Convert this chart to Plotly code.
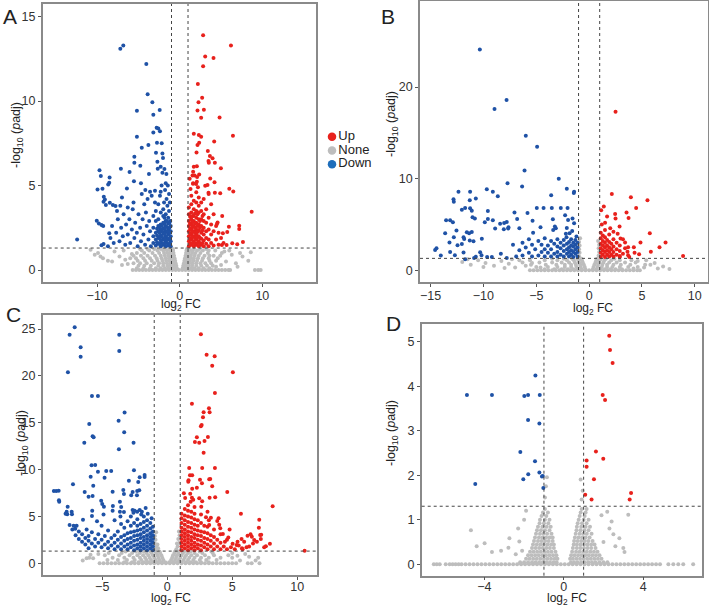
import plotly.graph_objects as go

# ------------------------------------------------------------------ data
# thresholds
FC_CUT = 1.0
P_CUT = 1.301  # -log10(0.05)

legend_labels = ["Up", "None", "Down"]

# ---------- Panel A
a_up = [(2.83,13.9),(6.2,13.3),(3.08,12.64),(4.09,12.56),(2.83,12.07),(2.19,11.02),(2.71,10.2),(2.27,9.94),
        (2.15,9.45),(2.92,9.49),(2.59,9.01),(4.82,9.03),(1.7,8.07),(2.31,7.99),(2.59,7.89),(6.44,7.95),(4.17,7.61),
        (2.15,7.4),(2.35,7.53),(2.03,6.96),(3.4,7.04),(3.65,6.75),(3.97,6.61),(3.48,6.45),(3.52,6.35),(4.25,6.35),
        (4.98,6.02),(1.7,6.11),(2.07,6.15),(1.62,5.82),(2.35,5.66),(1.54,5.6),(2.1,5.5),(3.69,5.42),(1.62,5.13),
        (2.07,5.23),(1.98,5.09),(4.21,5.19),(3.08,4.99),(3.36,5.03),(6.0,4.81),(6.48,4.65),(3.48,4.58),(4.25,4.58),
        (4.9,4.54),(8.71,3.45),(5.14,3.2),(4.58,2.82),(4.5,2.72),(7.2,2.62),(7.2,2.43),(5.95,2.56),(5.75,2.25),
        (5.22,2.17),(7.65,1.66),(6.36,1.58),(6.96,1.52),(5.1,1.48),(5.67,1.48),
        (1.1,1.4),(1.1,1.7),(1.1,2.0),(1.1,2.3),(1.1,2.6),(1.1,2.9),(1.1,3.3),(1.1,3.7),
        (1.4,1.5),(1.4,1.8),(1.4,2.1),(1.4,2.4),(1.4,2.7),(1.4,3.0),(1.4,3.4),(1.4,3.9),(1.4,4.4),
        (1.7,1.4),(1.7,1.7),(1.7,2.0),(1.7,2.3),(1.7,2.6),(1.7,2.9),(1.7,3.2),(1.7,3.6),(1.7,4.1),
        (2.0,1.5),(2.0,1.8),(2.0,2.1),(2.0,2.4),(2.0,2.8),(2.0,3.1),(2.0,3.5),(2.0,4.0),(2.0,4.6),
        (2.3,1.4),(2.3,1.7),(2.3,2.0),(2.3,2.35),(2.3,2.7),(2.3,3.0),(2.3,3.4),(2.3,3.8),(2.3,4.3),
        (2.6,1.5),(2.6,1.85),(2.6,2.2),(2.6,2.6),(2.6,3.0),(2.6,3.5),(2.6,4.0),
        (2.9,1.4),(2.9,1.75),(2.9,2.1),(2.9,2.5),(2.9,2.9),(2.9,3.3),(2.9,4.2),
        (3.2,1.55),(3.2,1.9),(3.2,2.3),(3.2,2.8),(3.2,3.6),(3.5,1.4),(3.5,1.8),(3.5,2.4),(3.5,3.1),(3.5,4.5),
        (3.8,1.6),(3.8,2.1),(3.8,2.7),(3.8,3.9),(4.1,1.45),(4.1,2.3),(4.1,3.3),(4.4,1.8),(4.4,2.6),
        (4.7,1.5),(4.7,2.2),(5.0,1.9),(5.3,1.6),(1.3,4.8),(1.6,5.1),(1.2,5.4),(2.2,4.9),(1.8,5.6),
        (1.25,1.55),(1.25,1.85),(1.25,2.15),(1.25,2.45),(1.25,2.75),(1.25,3.15),(1.55,1.6),(1.55,1.95),
        (1.55,2.25),(1.55,2.55),(1.55,2.85),(1.55,3.2),(1.85,1.55),(1.85,1.9),(1.85,2.2),(1.85,2.5),(1.85,2.75),
        (1.85,3.35),(2.15,1.6),(2.15,1.95),(2.15,2.25),(2.15,2.6),(2.15,3.3),(2.45,1.55),(2.45,1.9),(2.45,2.5),
        (2.45,2.9),(2.75,1.6),(2.75,2.35),(2.75,3.2)]
a_down = [(-7.2,13.1),(-6.84,13.3),(-4.05,12.2),(-3.89,10.4),(-3.32,9.94),(-5.19,9.43),(-2.43,9.47),(-3.2,9.2),
          (-2.8,8.42),(-2.6,8.38),(-2.4,8.22),(-3.2,8.14),(-5.19,7.89),(-3.8,7.4),(-4.6,7.24),(-2.76,7.53),
          (-2.19,7.5),(-5.5,6.7),(-5.5,6.35),(-4.78,6.17),(-2.88,6.94),(-2.1,6.9),(-2.03,6.63),(-2.71,6.41),
          (-2.31,6.11),(-1.86,5.98),(-2.67,6.0),(-2.1,5.76),(-1.62,5.68),(-7.13,6.0),(-6.08,5.8),(-3.73,5.68),
          (-9.72,5.9),(-9.56,5.56),(-8.5,5.48),(-8.54,5.17),(-5.55,5.25),(-4.7,5.13),(-8.67,5.07),(-9.96,4.77),
          (-9.36,4.81),(-6.4,4.83),(-4.17,4.73),(-3.6,4.63),(-3.0,4.69),(-2.31,4.63),(-1.7,5.13),(-1.78,4.73),
          (-7.0,4.3),(-9.2,4.34),(-9.07,4.18),(-9.23,4.04),(-8.95,3.85),(-8.47,3.98),(-8.1,3.85),(-7.78,3.79),
          (-10.05,2.92),(-9.8,2.76),(-9.48,2.66),(-9.27,2.6),(-12.43,1.8),(-9.48,1.46),(-9.23,1.54),(-8.54,2.17),
          (-1.1,1.4),(-1.1,1.7),(-1.1,2.0),(-1.1,2.3),(-1.1,2.6),(-1.15,2.9),
          (-1.4,1.45),(-1.4,1.8),(-1.4,2.1),(-1.4,2.4),(-1.4,2.75),(-1.4,3.1),
          (-1.7,1.4),(-1.7,1.7),(-1.7,2.0),(-1.7,2.3),(-1.7,2.6),(-1.7,2.9),(-1.7,3.3),
          (-2.0,1.5),(-2.0,1.8),(-2.0,2.15),(-2.0,2.45),(-2.0,2.8),(-2.0,3.2),(-2.0,3.6),
          (-2.3,1.4),(-2.3,1.75),(-2.3,2.05),(-2.3,2.4),(-2.3,2.7),(-2.3,3.4),
          (-2.6,1.55),(-2.6,1.9),(-2.6,2.3),(-2.6,2.6),(-2.6,3.0),(-2.6,3.9),
          (-2.9,1.45),(-2.9,1.8),(-2.9,2.2),(-2.9,2.9),(-2.9,3.5),(-3.2,1.6),(-3.2,2.0),(-3.2,2.5),(-3.2,3.2),
          (-1.3,3.5),(-1.5,3.8),(-1.2,4.0),(-1.6,4.2),(-1.9,4.0),(-1.3,4.5),(-1.45,5.0),
          (-3.5,1.4),(-3.6,2.3),(-3.7,2.9),(-3.8,1.8),(-4.0,2.6),(-4.1,3.4),(-4.2,1.5),(-4.4,2.1),(-4.5,3.0),
          (-4.7,1.7),(-4.8,2.5),(-5.0,3.3),(-5.1,1.4),(-5.2,2.2),(-5.4,2.8),(-5.5,1.9),(-5.7,3.6),(-5.8,2.4),
          (-6.0,1.6),(-6.1,3.0),(-6.3,2.1),(-6.5,2.7),(-6.6,1.5),(-6.8,3.3),(-6.9,2.0),(-7.1,2.5),(-7.3,1.7),
          (-7.5,3.0),(-7.7,2.2),(-8.0,1.6),(-8.2,2.6),(-8.4,1.9),(-8.7,1.4),(-4.3,3.9),(-3.9,4.2),(-5.6,4.0),
          (-6.3,3.7),(-7.2,3.8),(-7.6,3.5),(-4.6,4.5),(-3.4,4.4),(-3.0,4.0),(-2.4,4.4),(-2.2,5.0),
          (-1.25,1.55),(-1.25,1.85),(-1.25,2.2),(-1.25,2.5),(-1.25,2.8),(-1.55,1.6),(-1.55,1.9),(-1.55,2.25),
          (-1.55,2.55),(-1.55,2.9),(-1.85,1.55),(-1.85,1.85),(-1.85,2.15),(-1.85,2.45),(-1.85,2.75),(-1.85,3.1),
          (-2.15,1.6),(-2.15,1.95),(-2.15,2.3),(-2.15,2.6),(-2.45,1.55),(-2.45,1.9),(-2.45,2.2),(-2.45,2.55),
          (-2.75,1.65),(-2.75,2.05),(-2.75,2.45)]
a_none_rows = [
    (0.0, [-5.7,-5.3,-4.9,-4.5,-4.1,-3.7,-3.3,-2.9,-2.5,-2.1,-1.7,-1.3,-0.9,-0.5,-0.1,0.3,0.7,1.1,1.5,1.9,
           2.3,2.7,3.1,3.5,3.9,4.3,4.7,5.1,5.5,5.9,6.1,9.1,9.5,9.8]),
    (0.1, [-5.2,-4.4,-3.6,-2.9,-2.3,-1.8,-1.4,-1.0,-0.65,-0.35,0.35,0.65,1.0,1.4,1.8,2.3,2.9,3.6]),
    (0.25, [-5.0,-4.3,-3.5,-2.6,-2.0,-1.5,-1.1,-0.75,-0.42,0.42,0.75,1.1,1.5,2.0,2.6,3.3,4.0]),
    (0.4, [-5.6,-4.8,-4.0,-3.1,-2.5,-2.0,-1.55,-1.15,-0.8,-0.5,0.5,0.8,1.15,1.55,2.0,2.5,3.1,3.8]),
    (0.55, [-5.1,-4.2,-3.4,-2.7,-2.1,-1.65,-1.25,-0.9,-0.56,0.56,0.9,1.25,1.65,2.1,2.7,3.6,4.4]),
    (0.7, [-6.0,-5.3,-4.4,-3.6,-2.8,-2.2,-1.7,-1.3,-0.95,-0.63,0.63,0.95,1.3,1.7,2.2,2.8,3.5,4.6]),
    (0.85, [-5.6,-4.7,-3.9,-3.0,-2.3,-1.8,-1.35,-1.0,-0.7,0.7,1.0,1.35,1.8,2.3,3.0,3.6,4.1,4.9]),
    (1.0, [-5.2,-4.3,-3.3,-2.5,-1.9,-1.5,-1.1,-0.76,0.76,1.1,1.5,1.9,2.5,3.4,5.1]),
    (1.15, [-4.6,-3.7,-2.7,-2.0,-1.55,-1.15,-0.82,0.82,1.15,1.55,2.1,2.8,3.5,4.3,6.0]),
    (1.25, [-4.8,-3.9,-3.1,-2.3,-1.7,-1.2,-0.87,0.87,1.2,1.7,2.4,3.2]),
]
a_none_pts = [(-10.8,1.2),(-10.3,0.9),(-9.9,1.0),(-9.6,0.8),(-9.3,0.7),(-8.7,0.55),(-8.2,0.5),(-7.9,1.1),
              (-7.3,0.8),(-6.8,1.15),(-6.6,0.6),(-6.3,0.35),(-5.8,0.95),(-7.0,0.3),(5.6,0.5),(6.3,0.9),
              (6.8,0.4),(7.3,1.0),(7.6,0.8),(8.3,0.55),(8.6,1.05),(5.0,0.3),(4.4,0.2),(5.4,1.1),(7.0,0.2)]

# ---------- Panel B
b_up = [(2.5,17.3),(2.15,8.34),(3.95,7.98),(5.52,7.65),(1.39,6.95),(4.45,6.81),(1.14,6.56),(3.54,6.3),
        (2.46,6.15),(1.7,5.86),(2.5,5.64),(3.73,5.72),(1.51,5.2),(2.88,4.77),(5.74,4.04),(2.97,3.46),
        (4.86,3.02),(7.23,3.02),(3.4,3.02),(3.69,2.51),(4.23,2.51),(6.66,2.51),(5.84,2.03),(3.63,2.03),
        (3.69,1.64),(4.73,1.75),(8.89,1.56),(2.9,1.56),
        (1.1,1.45),(1.1,1.9),(1.1,2.4),(1.1,2.9),(1.1,3.5),(1.1,4.1),(1.3,1.7),(1.3,2.2),(1.3,2.7),(1.3,3.2),
        (1.3,3.8),(1.5,1.45),(1.5,2.0),(1.5,2.5),(1.5,3.0),(1.5,3.6),(1.5,4.4),(1.7,1.7),(1.7,2.2),(1.7,2.7),
        (1.7,3.3),(1.9,1.5),(1.9,2.0),(1.9,2.5),(1.9,3.1),(1.9,3.9),(2.1,1.7),(2.1,2.3),(2.1,2.9),(2.3,1.5),
        (2.3,2.0),(2.3,2.6),(2.3,3.4),(2.3,4.2),(2.6,1.7),(2.6,2.3),(2.6,3.0),(2.9,1.45),(2.9,2.1),(2.9,2.7),
        (3.2,1.8),(3.2,3.4),(3.4,2.4),(3.8,1.45),(4.3,1.9),(1.2,5.0),(2.0,4.6),(2.7,4.0)]
b_down = [(-10.34,24.1),(-7.81,18.6),(-8.95,17.6),(-5.99,14.7),(-4.92,13.5),(-6.11,10.9),(-7.72,9.5),
          (-6.34,9.14),(-2.87,9.98),(-2.11,8.89),(-1.45,8.45),(-1.42,8.56),(-12.36,8.56),(-11.26,8.56),
          (-12.83,7.76),(-12.8,7.47),(-10.72,7.83),(-9.68,8.85),(-9.11,8.56),(-8.64,8.09),(-3.59,8.2),
          (-12.04,6.62),(-11.73,6.81),(-11.29,7.65),(-11.26,6.78),(-11.1,6.51),(-9.58,6.48),(-11.03,5.79),
          (-10.81,5.64),(-7.06,6.3),(-5.83,6.26),(-4.95,6.81),(-4.31,6.81),(-3.53,6.81),(-2.68,6.81),
          (-2.04,6.81),(-13.53,5.46),(-13.15,5.46),(-12.89,5.24),(-9.87,5.24),(-9.58,5.6),(-9.11,5.46),
          (-8.42,5.09),(-8.04,5.17),(-7.79,5.28),(-8.07,4.48),(-7.66,4.55),(-7.63,4.7),(-8.89,4.55),
          (-6.81,5.6),(-5.35,5.42),(-3.43,5.57),(-3.15,4.59),(-3.24,4.77),(-2.27,6.0),(-1.99,5.5),(-1.57,5.64),
          (-1.42,5.14),(-2.11,4.62),(-1.85,4.04),(-2.14,3.61),(-13.62,4.04),(-12.55,4.33),(-11.88,3.6),
          (-11.82,3.42),(-11.57,4.15),(-11.35,4.04),(-11.1,4.19),(-11.29,3.24),(-10.94,3.17),(-10.15,3.45),
          (-13.21,3.02),(-12.8,3.6),(-12.45,2.73),(-12.04,2.87),(-14.57,2.22),(-14.44,2.4),(-14.03,1.6),
          (-13.15,2.0),(-12.7,1.64),(-11.88,1.93),(-11.73,1.2),(-10.31,1.97),(-10.18,1.64),(-9.65,1.45),
          (-9.2,1.45),(-8.35,1.81),(-10.72,1.49),(-10.88,1.35),(-7.79,1.35),
          (-1.1,1.5),(-1.1,2.0),(-1.1,2.5),(-1.1,3.0),(-1.3,1.8),(-1.3,2.3),(-1.3,2.8),(-1.3,3.3),(-1.5,1.45),
          (-1.5,2.0),(-1.5,2.6),(-1.5,3.0),(-1.7,1.7),(-1.7,2.2),(-1.7,2.7),(-1.7,3.4),(-1.9,1.5),(-1.9,2.0),
          (-1.9,2.5),(-1.9,3.1),(-2.1,1.8),(-2.1,2.3),(-2.1,2.9),(-2.4,1.5),(-2.4,2.1),(-2.4,2.7),(-2.4,3.3),
          (-2.7,1.7),(-2.7,2.4),(-2.7,3.0),(-3.0,1.5),(-3.0,2.0),(-3.0,2.6),(-3.0,3.4),(-3.3,1.8),(-3.3,2.9),
          (-3.6,1.5),(-3.6,2.3),(-3.6,3.2),(-3.9,1.9),(-3.9,2.7),(-4.2,1.5),(-4.2,2.3),(-4.2,3.5),(-4.5,2.0),
          (-4.5,2.8),(-4.8,1.6),(-4.8,3.2),(-5.1,2.3),(-5.4,1.5),(-5.4,2.8),(-5.7,1.9),(-5.7,3.4),(-6.0,2.5),
          (-6.3,1.6),(-6.3,3.0),(-6.6,2.2),(-6.9,1.5),(-7.2,2.8),(-2.2,4.0),(-1.2,3.7),(-1.6,4.3),(-3.4,4.4),
          (-4.6,4.7),(-5.3,4.1),(-6.6,4.6)]
b_none_rows = [
    (0.0, [-5.6,-5.25,-4.9,-4.55,-4.2,-3.85,-3.5,-3.15,-2.8,-2.45,-2.1,-1.75,-1.4,-1.05,-0.7,-0.35,0.0,0.35,
           0.7,1.05,1.4,1.75,2.1,2.45,2.8,3.15,3.5,3.85,4.2,4.55,4.8]),
    (0.1, [-4.2,-3.3,-2.6,-2.0,-1.5,-1.1,-0.7,-0.35,0.35,0.7,1.1,1.5,2.0,2.5,3.1]),
    (0.35, [-5.0,-3.9,-3.0,-2.3,-1.7,-1.2,-0.8,-0.42,0.42,0.8,1.2,1.7,2.2,2.9,3.7,4.6]),
    (0.6, [-5.5,-4.1,-3.1,-2.3,-1.7,-1.25,-0.85,-0.5,0.5,0.85,1.25,1.7,2.3,3.0,3.9,5.3]),
    (0.85, [-6.3,-4.7,-3.5,-2.6,-1.9,-1.35,-0.95,-0.6,0.6,0.95,1.35,1.9,2.6,3.4,4.4]),
    (1.1, [-5.6,-4.2,-3.0,-2.1,-1.45,-1.0,-0.68,0.68,1.0,1.45,2.1,2.9,4.0]),
    (1.25, [-3.5,-2.4,-1.6,-1.1,-0.74,0.74,1.1,1.6,2.4]),
]
b_none_pts = [(-0.95,1.5),(-0.9,1.9),(-0.95,2.3),(-0.9,2.7),(-0.95,3.1),(-0.85,3.5),(0.9,1.6),(0.95,2.0),
              (0.9,2.4),(0.95,2.8),(0.85,3.2),(-12.0,0.9),(-11.2,0.6),(-10.5,1.1),(-9.8,0.8),(-9.0,0.5),
              (-8.3,1.0),(-7.6,0.7),(-7.0,0.3),(-6.6,1.1),(-8.0,0.25),(-10.0,0.35),(-7.3,1.2),(-6.0,0.5),
              (-5.4,0.8),(-4.6,0.3),(-11.5,1.2),(5.2,0.3),(5.8,0.6),(6.5,0.2),(7.0,0.4),(7.6,0.15),(6.2,0.8),
              (4.6,1.0),(5.4,1.1),(4.2,0.2)]

# ---------- Panel C
c_up = [(2.59,24.44),(3.03,22.26),(3.65,22.09),(3.46,21.09),(5.05,20.38),(3.67,18.17),(1.9,17.03),(3.21,16.54),
        (2.8,16.11),(3.26,16.11),(2.75,15.6),(2.65,14.76),(2.59,14.62),(2.28,13.45),(2.13,12.95),(2.46,12.87),
        (2.87,13.05),(3.13,13.48),(2.8,11.8),(1.69,10.17),(2.69,10.17),(3.67,10.17),(1.75,9.39),(1.92,9.39),
        (1.64,8.86),(1.62,8.71),(2.52,8.92),(3.23,8.96),(3.31,9.0),(2.28,8.07),(1.92,7.96),(2.67,8.54),
        (3.46,8.22),(4.62,7.61),(1.28,7.47),(1.77,7.43),(1.38,6.97),(1.9,7.0),(2.0,6.79),(1.8,6.57),(2.46,6.94),
        (3.26,7.0),(3.69,7.04),(2.69,6.61),(2.62,6.04),(8.11,6.08),(5.67,5.3),(7.08,4.66),(7.05,3.8),(7.15,3.02),
        (7.23,3.05),(7.9,2.09),(7.59,1.81),(7.46,1.71),(10.57,1.35),(3.95,4.8),(3.85,4.51),(4.08,3.73),
        (3.36,4.87),(2.98,4.91),(3.23,4.09),(4.28,3.13),(4.7,2.74),(4.44,2.31),(5.03,2.09),(5.34,1.95),
        (5.41,2.31),(5.72,2.59),(5.92,2.31),(6.18,2.95),(6.41,3.09),(6.51,2.84),(6.69,2.49),(6.1,1.71),(5.75,1.6),
        (1.1,1.4),(1.1,1.8),(1.1,2.2),(1.1,2.6),(1.1,3.0),(1.1,3.4),(1.1,3.8),(1.1,4.3),(1.1,4.8),(1.1,5.3),
        (1.35,1.6),(1.35,2.0),(1.35,2.4),(1.35,2.8),(1.35,3.2),(1.35,3.6),(1.35,4.1),(1.35,4.6),(1.35,5.1),
        (1.35,5.8),(1.6,1.4),(1.6,1.8),(1.6,2.2),(1.6,2.6),(1.6,3.0),(1.6,3.4),(1.6,3.9),(1.6,4.4),(1.6,5.0),
        (1.6,5.6),(1.6,6.2),(1.85,1.6),(1.85,2.0),(1.85,2.4),(1.85,2.8),(1.85,3.3),(1.85,3.8),(1.85,4.3),
        (1.85,4.9),(1.85,5.5),(2.1,1.4),(2.1,1.8),(2.1,2.2),(2.1,2.7),(2.1,3.1),(2.1,3.6),(2.1,4.1),(2.1,4.7),
        (2.1,5.3),(2.1,6.0),(2.35,1.6),(2.35,2.0),(2.35,2.5),(2.35,3.0),(2.35,3.5),(2.35,4.0),(2.35,4.6),
        (2.6,1.4),(2.6,1.9),(2.6,2.4),(2.6,2.9),(2.6,3.4),(2.6,4.3),(2.6,5.2),(2.85,1.7),(2.85,2.2),(2.85,2.7),
        (2.85,3.3),(2.85,4.0),(3.1,1.5),(3.1,2.0),(3.1,2.6),(3.1,3.2),(3.1,3.9),(3.1,5.5),(3.35,1.8),(3.35,2.4),
        (3.35,3.0),(3.6,1.5),(3.6,2.1),(3.6,2.8),(3.6,3.6),(3.85,1.8),(3.85,2.5),(4.1,1.5),(4.1,2.2),(4.1,3.1),
        (4.35,1.8),(4.6,1.5),(4.6,2.5),(4.9,1.7),(5.2,1.5),(5.5,1.9),(5.8,1.5),(6.3,1.8),(6.6,2.1),(6.9,2.3),
        (7.2,2.6),(4.8,3.6),(4.0,4.1),(3.2,4.6)]
c_down = [(-7.12,25.2),(-7.51,24.4),(-3.69,24.4),(-6.66,23.05),(-6.66,22.05),(-3.69,22.66),(-7.64,20.38),
          (-5.79,17.85),(-5.33,17.85),(-3.28,16.1),(-6.0,14.87),(-3.74,15.2),(-5.74,13.55),(-5.66,13.45),
          (-3.31,13.98),(-6.38,12.87),(-2.59,12.87),(-3.72,12.17),(-5.82,10.46),(-5.54,10.49),(-5.33,9.78),
          (-4.69,9.85),(-4.31,9.85),(-5.89,9.24),(-4.82,9.14),(-2.56,9.92),(-1.74,9.42),(-1.74,9.21),(-2.12,9.18),
          (-2.95,8.82),(-2.23,8.68),(-7.25,8.43),(-5.69,8.28),(-8.72,7.72),(-8.54,7.72),(-8.35,7.75),(-6.35,7.61),
          (-5.74,7.18),(-6.05,7.11),(-4.2,7.64),(-3.38,7.82),(-3.33,7.4),(-2.77,7.26),(-2.66,7.61),(-2.31,7.72),
          (-2.33,7.26),(-2.15,7.79),(-8.33,6.72),(-8.31,6.57),(-7.66,6.04),(-7.35,5.51),(-7.74,5.51),(-7.69,5.23),
          (-7.33,5.23),(-7.82,5.3),(-7.51,4.09),(-7.2,4.01),(-6.97,4.01),(-7.08,3.69),(-6.48,4.65),(-5.08,6.68),
          (-5.0,6.33),(-4.87,6.04),(-5.77,5.61),(-5.79,5.05),(-4.18,6.11),(-3.64,6.57),(-3.54,6.01),(-3.64,5.51),
          (-3.33,5.47),(-2.66,5.7),(-2.51,5.6),(-2.31,5.5),(-2.12,5.7),(-1.95,5.5),(-1.66,5.9),
          (-1.1,1.4),(-1.1,1.8),(-1.1,2.2),(-1.1,2.6),(-1.1,3.0),(-1.1,3.4),(-1.1,3.9),(-1.3,1.6),(-1.3,2.0),
          (-1.3,2.4),(-1.3,2.8),(-1.3,3.2),(-1.3,3.7),(-1.3,4.3),(-1.55,1.4),(-1.55,1.8),(-1.55,2.2),(-1.55,2.6),
          (-1.55,3.0),(-1.55,3.5),(-1.55,4.0),(-1.55,4.6),(-1.8,1.6),(-1.8,2.0),(-1.8,2.4),(-1.8,2.8),(-1.8,3.3),
          (-1.8,3.8),(-1.8,4.4),(-1.8,5.0),(-2.05,1.4),(-2.05,1.8),(-2.05,2.2),(-2.05,2.7),(-2.05,3.1),
          (-2.05,3.6),(-2.05,4.2),(-2.3,1.6),(-2.3,2.0),(-2.3,2.5),(-2.3,3.0),(-2.3,3.5),(-2.3,4.0),(-2.3,4.7),
          (-2.55,1.4),(-2.55,1.9),(-2.55,2.4),(-2.55,2.9),(-2.55,3.4),(-2.55,4.3),(-2.8,1.7),(-2.8,2.2),
          (-2.8,2.7),(-2.8,3.3),(-2.8,4.0),(-2.8,5.0),(-3.05,1.5),(-3.05,2.0),(-3.05,2.6),(-3.05,3.2),(-3.05,4.5),
          (-3.3,1.8),(-3.3,2.4),(-3.3,3.0),(-3.3,3.8),(-3.55,1.5),(-3.55,2.1),(-3.55,2.8),(-3.55,4.2),(-3.8,1.8),
          (-3.8,2.5),(-3.8,3.4),(-4.05,1.5),(-4.05,2.2),(-4.05,3.0),(-4.05,4.6),(-4.3,1.9),(-4.3,2.7),(-4.55,1.6),
          (-4.55,2.3),(-4.55,3.5),(-4.8,2.0),(-4.8,2.9),(-5.05,1.7),(-5.05,2.5),(-5.05,4.0),(-5.3,2.2),(-5.3,3.1),
          (-5.55,1.8),(-5.55,2.6),(-5.8,2.1),(-5.8,3.3),(-6.05,1.6),(-6.05,2.4),(-6.05,2.9),(-6.3,2.0),(-6.3,2.7),
          (-6.55,2.3),(-6.55,3.1),(-6.8,2.6),(-6.8,3.4),(-7.05,3.0),(-7.3,3.6),(-6.2,3.6),(-5.4,4.5),(-4.9,5.2),
          (-4.2,5.6),(-3.6,5.0),(-2.6,5.4),(-2.0,5.2),(-1.5,5.3),(-1.2,4.8)]
c_none_rows = [
    (0.0, [-5.2,-4.9,-4.6,-4.3,-4.0,-3.7,-3.4,-3.1,-2.8,-2.5,-2.2,-1.9,-1.6,-1.3,-1.0,-0.7,-0.4,-0.1,0.2,0.5,
           0.8,1.1,1.4,1.7,2.0,2.3,2.6,2.9,3.2,3.5,3.8,4.1,4.4,4.7,5.0,5.3,6.2,6.5,7.1]),
    (0.1, [-3.3,-2.7,-2.2,-1.8,-1.45,-1.1,-0.75,-0.45,-0.15,0.15,0.45,0.75,1.1,1.45,1.8,2.2,2.6,3.2]),
    (0.35, [-4.6,-3.8,-3.1,-2.5,-2.0,-1.6,-1.25,-0.9,-0.6,-0.3,0.3,0.6,0.9,1.25,1.6,2.0,2.5,3.0,3.8]),
    (0.6, [-4.2,-3.3,-2.6,-2.1,-1.7,-1.35,-1.0,-0.68,-0.38,0.38,0.68,1.0,1.35,1.7,2.1,2.6,3.2,4.1,5.0]),
    (0.85, [-4.8,-3.7,-2.9,-2.3,-1.85,-1.45,-1.1,-0.75,-0.45,0.45,0.75,1.1,1.45,1.85,2.3,2.9,3.6,4.7]),
    (1.1, [-4.5,-3.5,-2.7,-2.1,-1.6,-1.2,-0.85,-0.55,0.55,0.85,1.2,1.6,2.1,2.7,3.5,5.0]),
    (1.25, [-3.2,-2.4,-1.8,-1.3,-0.9,-0.6,0.6,0.9,1.3,1.8,2.5,3.4]),
]
c_none_pts = [(-0.95,1.5),(-0.85,1.8),(-0.95,2.1),(-0.9,2.5),(-0.95,2.9),(-0.85,3.3),(-0.7,1.6),(-0.75,2.0),
              (0.7,1.5),(0.8,1.8),(0.95,2.2),(0.85,2.6),(0.95,3.0),(0.9,3.4),(0.75,2.1),(-6.2,0.55),(-6.0,0.6),
              (-5.7,0.55),(-6.5,0.3),(-5.3,1.0),(-5.9,0.9),(6.8,0.3),(7.0,0.6),(6.0,1.0),(5.6,0.3),(6.3,0.7),
              (5.4,0.8)]

# ---------- Panel D
d_up = [(2.29,5.13),(2.33,4.81),(2.46,4.52),(1.96,3.8),(2.08,3.69),(1.62,2.53),(1.99,2.37),(1.15,2.33),
        (1.15,2.19),(1.52,1.91),(3.39,1.6),(1.08,1.56),(1.4,1.45),(3.32,1.45)]
d_down = [(-4.88,3.8),(-3.62,3.8),(-1.99,3.78),(-1.8,3.8),(-1.21,3.8),(-1.43,4.24),(-1.8,3.24),(-1.23,3.16),
          (-2.19,2.52),(-1.45,2.31),(-1.23,2.06),(-1.79,2.02),(-1.06,1.98),(-1.1,1.97),(-2.04,1.91),
          (-4.46,1.8),(-1.03,1.71)]
d_none_rows = [
    (0.0, [-6.55,-6.4,-6.25,-5.95,-5.75,-5.6,-5.45,-5.3,-5.15,-4.95,-4.75,-4.55,-4.35,-4.15,-3.95,-3.75,-3.55,
           -3.35,-3.15,-2.95,-2.75,-2.55,-2.35,-2.15,-1.95,-1.75,-1.55,-1.35,-1.15,-0.95,-0.75,-0.55,-0.35,
           -0.15,0.05,0.25,0.45,0.65,0.85,1.05,1.25,1.45,1.65,1.85,2.05,2.25,2.45,2.65,2.85,3.05,3.25,3.45,3.65,
           3.85,4.05,4.25,4.45,4.65,4.85,5.27,5.52,5.77,6.02,6.52]),
    (0.04, [-2.2,-2.0,-1.8,-1.6,-1.42,-1.24,-1.06,-0.88,-0.7,-0.52,-0.36,0.36,0.52,0.7,0.88,1.06,1.24,1.42,
            1.6,1.8,2.0,2.2]),
    (0.12, [-1.9,-1.72,-1.54,-1.36,-1.18,-1.0,-0.82,-0.64,-0.46,-0.32,0.32,0.46,0.64,0.82,1.0,1.18,1.36,1.54,
            1.72,1.9]),
    (0.2, [-1.8,-1.62,-1.44,-1.26,-1.08,-0.9,-0.72,-0.54,-0.37,0.37,0.54,0.72,0.9,1.08,1.26,1.44,1.62,1.8]),
    (0.28, [-1.7,-1.52,-1.34,-1.16,-0.98,-0.8,-0.62,-0.42,0.42,0.62,0.8,0.98,1.16,1.34,1.52,1.7]),
    (0.36, [-1.6,-1.42,-1.24,-1.06,-0.88,-0.7,-0.5,0.46,0.66,0.84,1.02,1.2,1.38,1.6]),
    (0.44, [-1.55,-1.36,-1.18,-1.0,-0.82,-0.64,-0.5,0.5,0.66,0.84,1.02,1.2,1.38,1.55]),
    (0.52, [-1.5,-1.3,-1.12,-0.94,-0.76,-0.56,0.52,0.7,0.88,1.06,1.24,1.45]),
    (0.6, [-1.45,-1.25,-1.07,-0.89,-0.71,-0.56,0.56,0.74,0.92,1.1,1.3]),
    (0.68, [-1.4,-1.2,-1.02,-0.84,-0.62,0.6,0.8,0.98,1.16,1.4]),
    (0.76, [-1.35,-1.15,-0.95,-0.72,0.64,0.84,1.04,1.25]),
    (0.84, [-1.3,-1.08,-0.86,-0.66,0.66,0.88,1.1,1.32]),
    (0.92, [-1.22,-1.0,-0.78,0.7,0.92,1.15]),
    (1.0, [-1.2,-0.95,-0.72,0.75,1.0,1.25]),
    (1.08, [-1.12,-0.88,0.8,1.05]),
    (1.16, [-1.05,-0.8,0.85,1.1]),
    (1.24, [-0.95,0.9,1.15]),
]
d_none_pts = [(-4.68,0.76),(-4.39,0.4),(-3.99,0.47),(-3.62,0.27),(-3.16,0.3),(-2.74,0.58),(-2.79,0.37),
              (-2.42,0.22),(-2.24,0.51),(-2.0,1.0),(-2.3,0.8),(-1.9,1.2),(2.19,1.18),(2.41,0.96),(2.8,0.58),
              (3.0,0.36),(3.25,1.11),(3.06,0.27),(2.5,0.67),(2.3,0.8),(2.6,0.4),(1.9,1.1),(2.0,0.5),(-2.1,0.3),
              (-0.95,1.5),(-0.9,1.75),(-0.85,1.95),(0.9,1.45),(0.85,1.9),(0.95,1.65)]

# tick values
a_xticks = [-10, 0, 10];        a_yticks = [0, 5, 10, 15]
b_xticks = [-15, -10, -5, 0, 5, 10]; b_yticks = [0, 10, 20]
c_xticks = [-5, 0, 5, 10];      c_yticks = [0, 5, 10, 15, 20, 25]
d_xticks = [-4, 0, 4];          d_yticks = [0, 1, 2, 3, 4, 5]

# ------------------------------------------------------------------ style
W, H = 709, 607
RED = "#E8211C"
BLUE = "#1F52A6"
GREY = "#BDBDBD"
FONT = "Arial, Liberation Sans, Helvetica, sans-serif"


def px_x(p):
    return p / W


def px_y(p):
    return 1 - p / H


def unpack(pts):
    return [p[0] for p in pts], [p[1] for p in pts]


def unpack_rows(rows):
    xs, ys = [], []
    for yv, xl in rows:
        for xv in xl:
            xs.append(xv)
            ys.append(yv)
    return xs, ys


panels = [
    dict(key="", up=a_up, down=a_down, rows=a_none_rows, pts=a_none_pts,
         dx=(42.7, 316), dy=(4, 282), xr=[-16.6, 16.5], yr=[-0.71, 15.75], xt=a_xticks, yt=a_yticks,
         letter="A", lpos=(10, 17), xtitle=(181, 305), ytitle=(17, 135), stand=-2),
    dict(key="2", up=b_up, down=b_down, rows=b_none_rows, pts=b_none_pts,
         dx=(420, 707.5), dy=(1, 282), xr=[-16.0, 11.2], yr=[-1.28, 29.4], xt=b_xticks, yt=b_yticks,
         letter="B", lpos=(388, 17), xtitle=(593, 309), ytitle=(392, 124), stand=-2),
    dict(key="3", up=c_up, down=c_down, rows=c_none_rows, pts=c_none_pts,
         dx=(42.7, 316.7), dy=(315, 575), xr=[-9.58, 11.5], yr=[-1.25, 26.5], xt=c_xticks, yt=c_yticks,
         letter="C", lpos=(13, 314), xtitle=(171, 599), ytitle=(22, 443), stand=-4),
    dict(key="4", up=d_up, down=d_down, rows=d_none_rows, pts=d_none_pts,
         dx=(421.7, 701.7), dy=(324.3, 575.7), xr=[-7.16, 6.95], yr=[-0.26, 5.39], xt=d_xticks, yt=d_yticks,
         letter="D", lpos=(393, 323), xtitle=(567, 599), ytitle=(392, 433), stand=-4),
]

fig = go.Figure()
layout = dict(width=W, height=H, margin=dict(l=0, r=0, t=0, b=0), paper_bgcolor="white",
              plot_bgcolor="white", showlegend=False, font=dict(family=FONT, color="#222"))
shapes, annotations = [], []

for p in panels:
    k = p["key"]
    xa, ya = "x" + k, "y" + k
    gx1, gy1 = unpack_rows(p["rows"])
    gx2, gy2 = unpack(p["pts"])
    fig.add_trace(go.Scatter(x=gx1 + gx2, y=gy1 + gy2, mode="markers", xaxis=xa, yaxis=ya, name="None",
                             marker=dict(size=4, color=GREY, line=dict(width=0)), hoverinfo="skip"))
    ux, uy = unpack(p["up"])
    fig.add_trace(go.Scatter(x=ux, y=uy, mode="markers", xaxis=xa, yaxis=ya, name="Up",
                             marker=dict(size=4, color=RED, line=dict(width=0))))
    dx_, dy_ = unpack(p["down"])
    fig.add_trace(go.Scatter(x=dx_, y=dy_, mode="markers", xaxis=xa, yaxis=ya, name="Down",
                             marker=dict(size=4, color=BLUE, line=dict(width=0))))

    common = dict(showgrid=False, zeroline=False, showline=True, mirror=True, linecolor="#8a8a8a",
                  linewidth=1.5, ticks="outside", ticklen=3, tickwidth=1, tickcolor="#555",
                  tickfont=dict(size=12.5, color="#333", family=FONT))
    layout["xaxis" + k] = dict(common, domain=[px_x(p["dx"][0]), px_x(p["dx"][1])], range=p["xr"],
                               tickvals=p["xt"], anchor=ya, ticklabelstandoff=p["stand"])
    layout["yaxis" + k] = dict(common, domain=[px_y(p["dy"][1]), px_y(p["dy"][0])], range=p["yr"],
                               tickvals=p["yt"], anchor=xa)

    dot = dict(color="#444", width=1, dash="dot")
    for xv in (-FC_CUT, FC_CUT):
        shapes.append(dict(type="line", xref=xa, yref=ya + " domain", x0=xv, x1=xv, y0=0, y1=1, line=dot))
    shapes.append(dict(type="line", xref=xa + " domain", yref=ya, x0=0, x1=1, y0=P_CUT, y1=P_CUT, line=dot))

    annotations.append(dict(text=p["letter"], xref="paper", yref="paper", x=px_x(p["lpos"][0]),
                            y=px_y(p["lpos"][1]), xanchor="center", yanchor="middle", showarrow=False,
                            font=dict(size=21, color="#222", family=FONT)))
    annotations.append(dict(text="log<sub>2</sub> FC", xref="paper", yref="paper", x=px_x(p["xtitle"][0]),
                            y=px_y(p["xtitle"][1]), xanchor="center", yanchor="middle", showarrow=False,
                            font=dict(size=12, color="#222", family=FONT)))
    annotations.append(dict(text="-log<sub>10</sub> (<i>p</i>adj)", xref="paper", yref="paper",
                            x=px_x(p["ytitle"][0]), y=px_y(p["ytitle"][1]), xanchor="center",
                            yanchor="middle", textangle=-90, showarrow=False,
                            font=dict(size=12.5, color="#222", family=FONT)))

# legend (Up / None / Down) drawn on its own hidden axis
fig.add_trace(go.Scatter(x=[6, 6, 6], y=[2, 1, 0], mode="markers+text", xaxis="x5", yaxis="y5",
                         text=legend_labels, textposition="middle right",
                         textfont=dict(size=13, color="#222", family=FONT),
                         marker=dict(size=8.5, color=[RED, GREY, "#1E6EBB"], line=dict(width=0)),
                         hoverinfo="skip"))
layout["xaxis5"] = dict(domain=[px_x(326), px_x(400)], range=[0, 74], visible=False, anchor="y5",
                        fixedrange=True)
layout["yaxis5"] = dict(domain=[px_y(171), px_y(130)], range=[-0.5, 2.5], visible=False, anchor="x5",
                        fixedrange=True)

layout["shapes"] = shapes
layout["annotations"] = annotations
fig.update_layout(**layout)
fig.write_html("out.html", config={"displayModeBar": False},
               post_script="document.body.style.margin='0';document.body.style.padding='0';"
                           "document.body.style.overflow='hidden';")
